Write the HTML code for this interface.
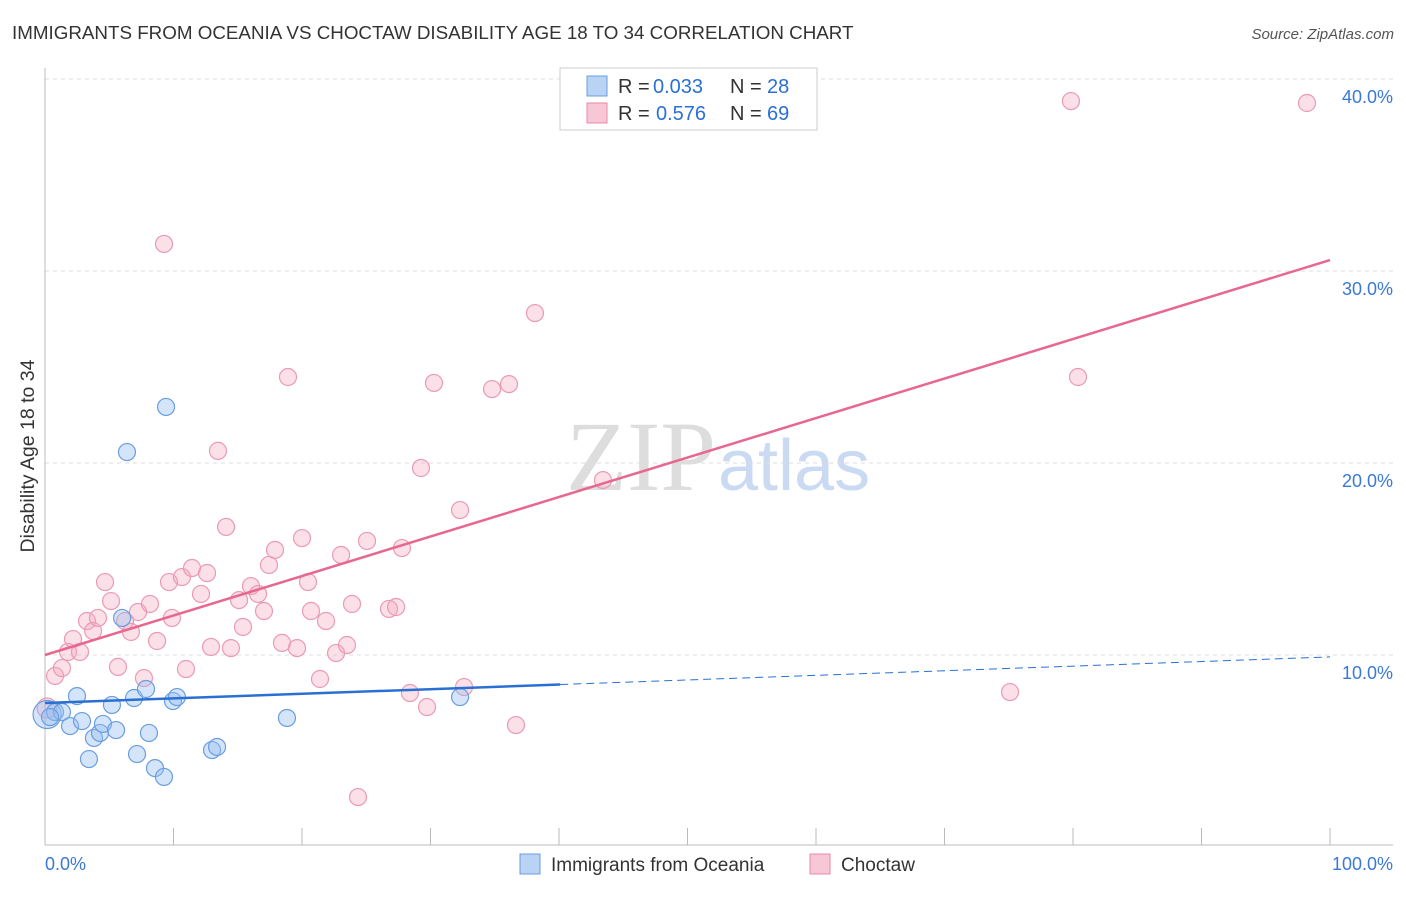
<!DOCTYPE html>
<html><head><meta charset="utf-8"><style>
body{margin:0;background:#fff;font-family:"Liberation Sans",sans-serif}
</style></head><body>
<svg width="1406" height="892" xmlns="http://www.w3.org/2000/svg" id="chart">
<text x="12" y="39" font-size="18.8" fill="#333">IMMIGRANTS FROM OCEANIA VS CHOCTAW DISABILITY AGE 18 TO 34 CORRELATION CHART</text>
<text x="1394" y="39" font-size="15" fill="#555" text-anchor="end" font-style="italic">Source: ZipAtlas.com</text>
<text x="716" y="490" font-size="100" fill="#ddd" text-anchor="end" font-family="Liberation Serif,serif">ZIP</text>
<text x="718" y="490" font-size="72" fill="#c9daf2">atlas</text>
<text transform="translate(34,456) rotate(-90)" font-size="19.5" fill="#333" text-anchor="middle">Disability Age 18 to 34</text>
<g id="grid"></g><g id="pts"></g><g id="lines"></g>
<g>
<rect x="560" y="68" width="257" height="62" fill="#fff" stroke="#ccc"/>
<rect x="587" y="76" width="20" height="20" fill="#b9d3f5" stroke="#6a9ee0"/>
<rect x="587" y="103" width="20" height="20" fill="#f8c7d6" stroke="#e88aa8"/>
<text x="618" y="93" font-size="20" fill="#333">R =</text>
<text x="653" y="93" font-size="20" fill="#2b6fd6">0.033</text>
<text x="730" y="93" font-size="20" fill="#333">N =</text>
<text x="767" y="93" font-size="20" fill="#2b6fd6">28</text>
<text x="618" y="120" font-size="20" fill="#333">R =</text>
<text x="656" y="120" font-size="20" fill="#2b6fd6">0.576</text>
<text x="730" y="120" font-size="20" fill="#333">N =</text>
<text x="767" y="120" font-size="20" fill="#2b6fd6">69</text>
</g>
<g>
<rect x="520" y="854" width="20" height="20" fill="#b9d3f5" stroke="#6a9ee0"/>
<text x="551" y="871" font-size="19" fill="#333">Immigrants from Oceania</text>
<rect x="810" y="854" width="20" height="20" fill="#f8c7d6" stroke="#e88aa8"/>
<text x="841" y="871" font-size="19" fill="#333">Choctaw</text>
</g>
<text x="45" y="870" font-size="18" fill="#3a78d8">0.0%</text>
<text x="1393" y="870" font-size="18" fill="#3a78d8" text-anchor="end">100.0%</text>
</svg>
<script>
const yTicks=[10,20,30,40];
const blueX=[0.16,0.78,1.32,2.49,1.95,2.88,3.81,4.28,4.51,3.42,5.21,5.53,6.0,6.38,6.93,7.16,7.86,8.09,8.56,9.26,9.42,9.96,10.27,13.0,13.39,18.83,32.3,0.39];
const blueY=[6.9,7.03,7.03,7.86,6.3,6.56,5.68,5.94,6.41,4.58,7.4,6.09,11.93,20.57,7.76,4.84,8.23,5.94,4.11,3.65,22.92,7.6,7.81,5.05,5.21,6.72,7.81,6.77];
const pinkX=[0.16,0.78,1.32,1.79,2.18,2.72,3.27,3.74,4.12,4.67,5.14,5.68,6.23,6.69,7.24,7.7,8.17,8.72,9.26,9.65,9.88,10.66,10.97,11.44,12.14,12.61,12.92,13.46,14.09,14.47,15.1,15.41,16.03,16.58,17.04,17.43,17.9,18.44,18.91,19.61,20.0,20.47,20.7,21.4,21.87,22.65,23.04,23.5,23.89,25.06,26.77,27.32,27.78,28.4,29.26,29.73,30.27,32.3,32.61,34.79,36.11,36.65,38.13,43.42,75.1,79.84,80.39,98.21,24.36];
const pinkY=[7.24,8.91,9.32,10.16,10.83,10.16,11.77,11.25,11.93,13.8,12.81,9.38,11.77,11.2,12.24,8.8,12.66,10.73,31.41,13.8,11.93,14.06,9.27,14.53,13.18,14.27,10.42,20.63,16.67,10.36,12.86,11.46,13.59,13.18,12.29,14.69,15.47,10.63,24.48,10.36,16.09,13.8,12.29,8.75,11.77,10.1,15.21,10.52,12.66,15.94,12.4,12.5,15.57,8.02,19.74,7.29,24.17,17.55,8.33,23.85,24.11,6.35,27.81,19.11,8.07,38.85,24.48,38.75,2.6];
const pinkTrend=[10.0,30.57];
const blueTrend=[7.5,9.9];
const blueSolidEnd=40.1;
const NS='http://www.w3.org/2000/svg';
const sx=v=>45+v*12.85, sy=v=>847-v*19.2;
function mk(t,a,p){const e=document.createElementNS(NS,t);for(const k in a)e.setAttribute(k,a[k]);p.appendChild(e);return e;}
const g=document.getElementById('grid');
yTicks.forEach(t=>{
 const l=mk('line',{x1:45,x2:1393,y1:sy(t),y2:sy(t),stroke:'#ddd','stroke-dasharray':'4,4'},g);
 
 
 const tx=mk('text',{x:1393,y:sy(t)+24,'font-size':18,fill:'#3a78d8','text-anchor':'end'},g);
 tx.textContent=t.toFixed(1)+'%';
 
 
});
mk('line',{x1:45,x2:45,y1:68,y2:845,stroke:'#bbb'},g);
mk('line',{x1:45,x2:1393,y1:845,y2:845,stroke:'#bbb'},g);
for(let i=1;i<=10;i++){mk('line',{x1:sx(i*10),x2:sx(i*10),y1:828,y2:845,stroke:'#bbb'},g);}
const p=document.getElementById('pts');
pinkX.forEach((x,i)=>{
 const c=mk('circle',{cx:sx(x),cy:sy(pinkY[i]),r:i==0?10:8.5,fill:'rgba(244,165,190,0.35)',stroke:'#eb9ab4','stroke-width':1.2},p);
 
 
});
blueX.forEach((x,i)=>{
 const c=mk('circle',{cx:sx(x),cy:sy(blueY[i]),r:i==0?14:8.5,fill:'rgba(150,190,240,0.4)',stroke:'#6a9ee0','stroke-width':1.2},p);
 
 
});
const L=document.getElementById('lines');
const pl=mk('line',{x1:sx(0),y1:sy(pinkTrend[0]),x2:sx(100),y2:sy(pinkTrend[1]),stroke:'#e8678f','stroke-width':2.5},L);


const bAt=x=>blueTrend[0]+(blueTrend[1]-blueTrend[0])*x/100;
const bl=mk('line',{x1:sx(0),y1:sy(bAt(0)),x2:sx(blueSolidEnd),y2:sy(bAt(blueSolidEnd)),stroke:'#2a70d4','stroke-width':2.5},L);


const bd=mk('line',{x1:sx(blueSolidEnd),y1:sy(bAt(blueSolidEnd)),x2:sx(100),y2:sy(bAt(100)),stroke:'#2a70d4','stroke-width':1,'stroke-dasharray':'8,5'},L);


</script>
</body></html>
